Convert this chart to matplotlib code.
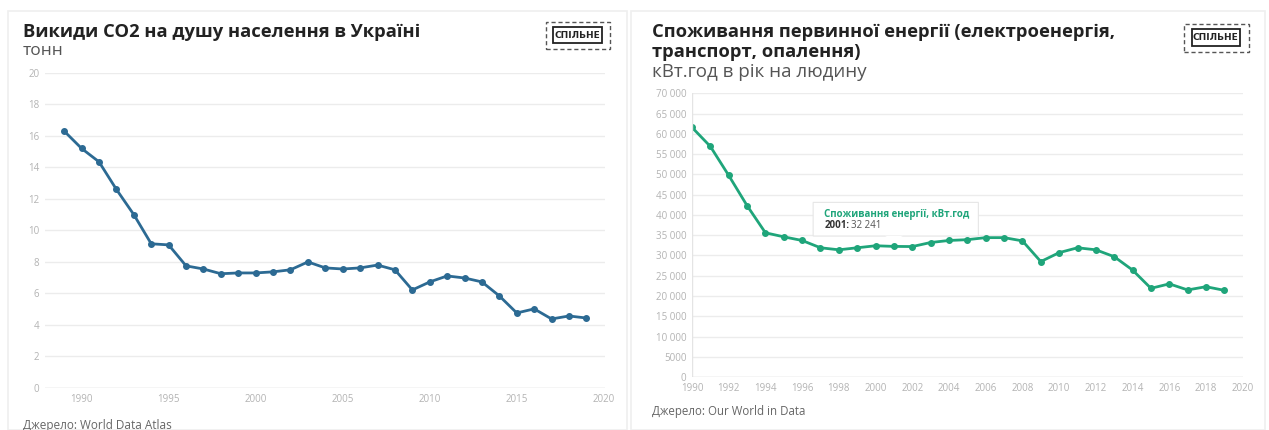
import matplotlib.pyplot as plt
from matplotlib.patches import FancyBboxPatch, Rectangle, Polygon
from matplotlib.ticker import FuncFormatter

plt.rcParams['font.family'] = ['Open Sans', 'DejaVu Sans']

# CO2 emissions per capita, tonnes
co2_years = list(range(1989, 2020))
co2_values = [16.3, 15.2, 14.35, 12.6, 11.0, 9.15, 9.08, 7.75, 7.55, 7.25, 7.3,
              7.3, 7.37, 7.5, 8.0, 7.62, 7.55, 7.62, 7.8, 7.5, 6.22, 6.73,
              7.11, 6.98, 6.73, 5.84, 4.76, 5.02, 4.38, 4.57, 4.44]

# primary energy consumption, kWh per person
energy_years = list(range(1990, 2020))
energy_values = [61600, 56900, 49750, 42300, 35600, 34600, 33700, 31900, 31400,
                 31900, 32400, 32241, 32200, 33200, 33700, 33900, 34400, 34400,
                 33600, 28500, 30700, 31900, 31400, 29700, 26400, 21900, 23000,
                 21500, 22300, 21400]

blue = '#2c6a93'
green = '#1fa57a'
tick_col = '#b3b3b3'
grid_col = '#ececec'

fig = plt.figure(figsize=(12.69, 4.3), dpi=100, facecolor='white')

# card outlines behind everything
for x0, w in [(0.006, 0.488), (0.497, 0.5)]:
    fig.patches.append(Rectangle((x0, 0.0), w, 0.975, transform=fig.transFigure,
                                 facecolor='white', edgecolor='#efefef', lw=1.2, zorder=-5))


def style_axes(ax):
    ax.set_facecolor('none')
    for s in ax.spines.values():
        s.set_visible(False)
    ax.grid(axis='y', color=grid_col, lw=1)
    ax.tick_params(length=0, labelsize=7, colors=tick_col, pad=4)
    ax.set_axisbelow(True)


def logo(x, y):
    fig.patches.append(Rectangle((x, y), 0.051, 0.065, transform=fig.transFigure,
                                 fill=False, edgecolor='#555555', lw=1, ls=(0, (3, 2))))
    fig.patches.append(Rectangle((x + 0.006, y + 0.014), 0.038, 0.038,
                                 transform=fig.transFigure, fill=False,
                                 edgecolor='#222222', lw=1.3))
    fig.text(x + 0.025, y + 0.033, 'СПІЛЬНЕ', fontsize=6.5, fontweight='bold',
             ha='center', va='center', color='#222222',
             family=['DejaVu Sans Condensed', 'DejaVu Sans'])


# left chart
ax1 = fig.add_axes([0.0355, 0.0977, 0.441, 0.733])
style_axes(ax1)
ax1.plot(co2_years, co2_values, color=blue, lw=2, marker='o', ms=4)
ax1.set_xlim(1987.9, 2020.05)
ax1.set_ylim(0, 20)
ax1.set_yticks(range(0, 21, 2))
ax1.set_xticks(range(1990, 2021, 5))
ax1.axhline(0, color='#dddddd', lw=1)

fig.text(0.018, 0.915, 'Викиди CO2 на душу населення в Україні', fontsize=13.2,
         fontweight='bold', color='#222222')
fig.text(0.018, 0.872, 'тонн', fontsize=12.5, color='#555555')
fig.text(0.018, 0.003, 'Джерело: World Data Atlas', fontsize=8.5, color='#666666')
logo(0.43, 0.885)

# right chart
ax2 = fig.add_axes([0.5453, 0.123, 0.434, 0.660])
style_axes(ax2)
ax2.plot(energy_years, energy_values, color=green, lw=2, marker='o', ms=4)
ax2.set_xlim(1990, 2020)
ax2.set_ylim(0, 70000)
ax2.set_yticks(range(0, 70001, 5000))
ax2.set_xticks(range(1990, 2021, 2))
ax2.axvline(1990, color='#e4e4e4', lw=1)
ax2.axhline(0, color='#dddddd', lw=1)


def thousands(v, pos):
    v = int(v)
    if v < 10000:
        return str(v)
    return f'{v:,}'.replace(',', ' ')


ax2.yaxis.set_major_formatter(FuncFormatter(thousands))

fig.text(0.514, 0.915, 'Споживання первинної енергії (електроенергія,', fontsize=13.2,
         fontweight='bold', color='#222222')
fig.text(0.514, 0.868, 'транспорт, опалення)', fontsize=13.2,
         fontweight='bold', color='#222222')
fig.text(0.514, 0.82, 'кВт.год в рік на людину', fontsize=13.5, color='#555555')
fig.text(0.514, 0.035, 'Джерело: Our World in Data', fontsize=8.3, color='#666666')
logo(0.933, 0.88)

# tooltip for 2001
hx = 2001
hy = energy_values[energy_years.index(hx)]
ax2.add_patch(FancyBboxPatch((1996.6, 34800), 9.0, 8300,
                             boxstyle='round,pad=0,rounding_size=0.2',
                             facecolor='white', edgecolor='#e6e6e6', lw=0.8, zorder=5))
ax2.add_patch(Polygon([(hx - 0.5, 34850), (hx + 0.5, 34850), (hx, 33600)], closed=True,
                      facecolor='white', edgecolor='none', zorder=5))
ax2.text(1997.2, 40000, 'Споживання енергії, кВт.год', fontsize=7, va='center',
         fontweight='bold', color=green, zorder=6)
ax2.text(1997.2, 37500, f'{hx}:', fontsize=7, fontweight='bold', va='center',
         color='#333333', zorder=6)
ax2.text(1998.65, 37500, f'{hy:,}'.replace(',', ' '), fontsize=7, va='center',
         color='#555555', zorder=6)

fig.savefig('out.png', dpi=100, facecolor=fig.get_facecolor())
